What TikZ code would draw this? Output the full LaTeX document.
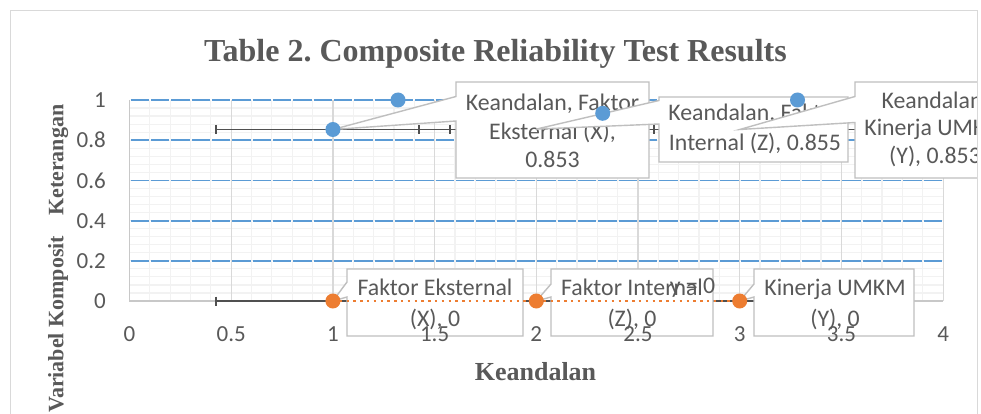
\documentclass[tikz,border=0pt]{standalone}
\usepackage{fontspec}
\newfontfamily\calfont{Carlito}
\newfontfamily\tnrfont{Liberation Serif}
\definecolor{xlblue}{HTML}{5B9BD5}
\definecolor{xlorange}{HTML}{ED7D31}
\definecolor{gridmajor}{HTML}{D9D9D9}
\definecolor{gridminor}{HTML}{F2F2F2}
\definecolor{txtgray}{HTML}{595959}
\definecolor{boxgray}{HTML}{BFBFBF}
\definecolor{errgray}{HTML}{505050}
\definecolor{axisgray}{HTML}{C8C8C8}
\frenchspacing
\tikzset{
  minorgrid/.style={draw=gridminor, line width=1.2pt},
  majorgrid/.style={draw=gridmajor, line width=1.2pt},
  bluegrid/.style={draw=xlblue, line width=1.8pt, dash pattern=on 18.3pt off 2.04pt, dash phase=19.32pt},
  axisline/.style={draw=axisgray, line width=1.5pt},
  errbar/.style={draw=errgray, line width=1.5pt},
  callout/.style={draw=boxgray, line width=1.4pt, fill=white, line join=miter},
  lbl/.style={font=\calfont\fontsize{23.8pt}{28pt}\selectfont, text=txtgray, inner sep=0pt, anchor=base},
  ticklbl/.style={font=\calfont\fontsize{23pt}{27pt}\selectfont, text=txtgray, inner sep=0pt},
  ytitle/.style={font=\tnrfont\bfseries\fontsize{22pt}{26pt}\selectfont, text=txtgray, inner sep=0pt, anchor=base west, rotate=90},
  bluedot/.style={fill=xlblue},
  orangedot/.style={fill=xlorange},
  trend/.style={draw=xlorange, line width=2.4pt, dash pattern=on 2.4pt off 4.4pt},
  frameline/.style={draw=gridmajor, line width=1.2pt}
}
\begin{document}
\begin{tikzpicture}[x=1pt,y=-1pt]
\useasboundingbox (0,0) rectangle (981,414);
\fill[white] (0,0) rectangle (981,414);
% data coordinates
\coordinate (pA) at (332.9,129.5);
\coordinate (pB) at (536.3,129.1);
\coordinate (pC) at (739.7,129.5);
\coordinate (oA) at (332.9,301);
\coordinate (oB) at (536.3,301);
\coordinate (oC) at (739.7,301);
\coordinate (eTL) at (216,129.5);
\coordinate (eTR) at (857,129.5);
\coordinate (eBL) at (216,301);
\coordinate (eBR) at (857,301);
\begin{scope}
\clip (11,11) rectangle (977,414);
% grid
\foreach \i in {1,...,39} { \draw[minorgrid] ({129.5+20.34*\i},100) -- ({129.5+20.34*\i},301); }
\foreach \i in {1,...,24} { \draw[minorgrid] (129.5,{301-8.04*\i}) -- (943.1,{301-8.04*\i}); }
\foreach \i in {1,...,8} { \draw[majorgrid] ({129.5+101.7*\i},100) -- ({129.5+101.7*\i},301); }
\foreach \i in {1,...,5} { \draw[bluegrid] (129.5,{301-40.2*\i}) -- (943.1,{301-40.2*\i}); }
\draw[axisline] (129.5,100) -- (129.5,301) -- (943.1,301);
% error bars
\draw[errbar] (eTL) -- (eTR);
\foreach \x in {216,419,450,623,654,826,857} { \draw[errbar] (\x,125) -- (\x,134); }
\draw[errbar] (eBL) -- (eBR);
\foreach \x in {216,419,450,623,654,826,857} { \draw[errbar] (\x,296.5) -- (\x,305.5); }
% top callouts
\draw[callout] (456,82) -- (649,82) -- (649,178) -- (456,178) -- (456,121) -- (pA) -- (456,96.5) -- cycle;
\node[lbl] (l1a) at (552.5,110.5) {Keandalan, Faktor};
\node[lbl] (l1b) at (552.5,139.5) {Eksternal (X),};
\node[lbl] (l1c) at (552.5,167.5) {0.853};
\draw[callout] (659,97) -- (848,97) -- (848,162) -- (659,162) -- (659,124) -- (pB) -- (659,100.5) -- cycle;
\node[lbl] (l2a) at (755,121) {Keandalan, Faktor};
\node[lbl] (l2b) at (755,151) {Internal (Z), 0.855};
\draw[callout] (855,82) -- (1012,82) -- (1012,178) -- (855,178) -- (855,122.5) -- (pC) -- (855,96.5) -- cycle;
\node[lbl] (l3a) at (935,108.5) {Keandalan,};
\node[lbl] (l3b) at (935,136) {Kinerja UMKM};
\node[lbl] (l3c) at (935,163.5) {(Y), 0.853};
% bottom callouts
\draw[callout] (347,269) -- (523,269) -- (523,336) -- (347,336) -- (347,297) -- (oA) -- (347,282) -- cycle;
\draw[callout] (551,269) -- (713,269) -- (713,336) -- (551,336) -- (551,297) -- (oB) -- (551,284) -- cycle;
\draw[callout] (754,269) -- (914,269) -- (914,336) -- (754,336) -- (754,297) -- (oC) -- (754,284) -- cycle;
\node[lbl] (bAa) at (435,295.5) {Faktor Eksternal};
\node[lbl] (bAb) at (435,326) {(X), 0};
\node[lbl] (bBa) at (632,295.5) {Faktor Internal};
\node[lbl] (bBb) at (632,326) {(Z), 0};
\node[lbl] (bCa) at (835,295.5) {Kinerja UMKM};
\node[lbl] (bCb) at (835,326) {(Y), 0};
% trendline
\draw[trend] (oA) -- (oC);
\node[lbl] (eq) at (692.5,293.5) {y = 0};
% points
\fill[bluedot] (pA) circle (7.5);
\fill[orangedot] (oA) circle (7.5);
\fill[orangedot] (oB) circle (7.5);
\fill[orangedot] (oC) circle (7.5);
\fill[bluedot] (398,100) circle (7.5);
\fill[bluedot] (602.7,113.3) circle (7.5);
\fill[bluedot] (797.5,100) circle (7.5);
% y tick labels
\foreach \v/\t in {0/0,1/0.2,2/0.4,3/0.6,4/0.8,5/1} { \node[ticklbl, anchor=base east] at (106,{301-40.2*\v+7.8}) {\t}; }
% x tick labels
\foreach \v/\t in {0/0,1/0.5,2/1,3/1.5,4/2,5/2.5,6/3,7/3.5,8/4} { \node[ticklbl, anchor=base] at ({129.5+101.7*\v},341.5) {\t}; }
% titles
\node[font=\tnrfont\bfseries\fontsize{32pt}{36pt}\selectfont, text=txtgray, inner sep=0pt, anchor=base] (title) at (495.5,61.7) {Table 2. Composite Reliability Test Results};
\node[font=\tnrfont\bfseries\fontsize{26pt}{30pt}\selectfont, text=txtgray, inner sep=0pt, anchor=base] (xtitle) at (535.5,380) {Keandalan};
\node[ytitle] (ytitleA) at (63.3,413) {Variabel Komposit};
\node[ytitle] (ytitleB) at (63.3,216) {Keterangan};
\end{scope}
\draw[frameline] (10.5,420) -- (10.5,10.5) -- (977.5,10.5) -- (977.5,420);
\end{tikzpicture}
\end{document}
